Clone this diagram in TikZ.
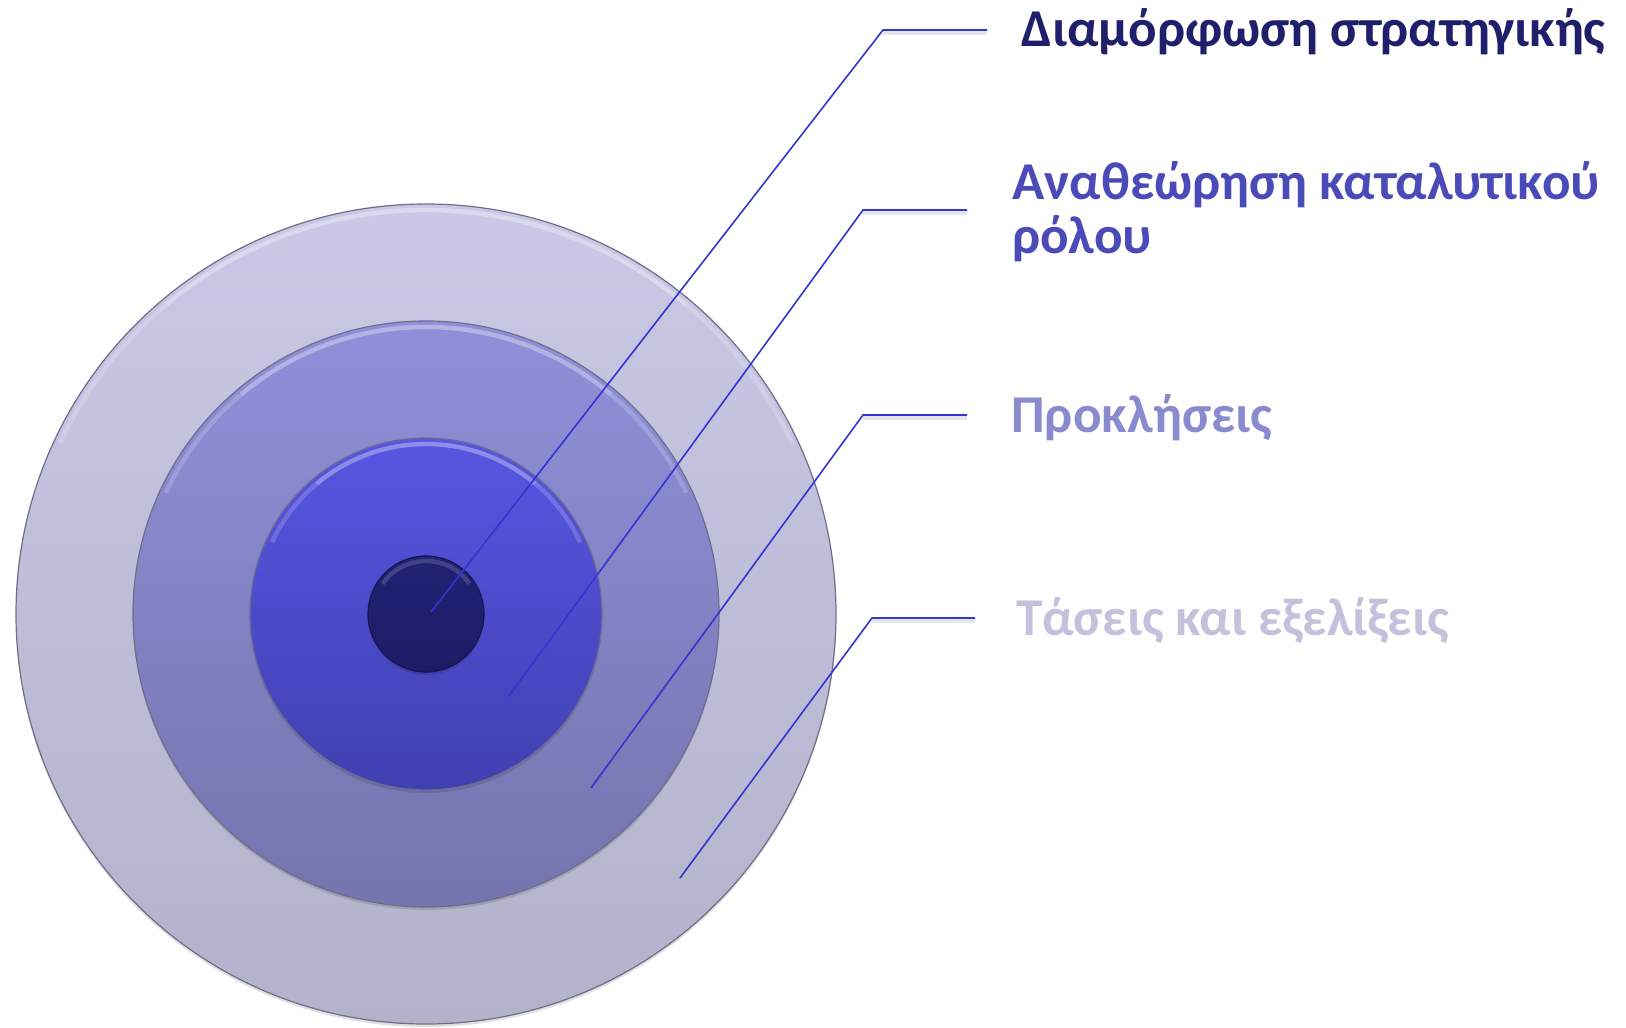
\documentclass[tikz,border=0pt]{standalone}
\usepackage{fontspec}
\setmainfont{Carlito}
\usetikzlibrary{positioning}

\definecolor{leaderblue}{HTML}{3434D2}
\definecolor{ringedge}{HTML}{6E6E8C}
\definecolor{labelA}{HTML}{1F1F6C}
\definecolor{labelB}{HTML}{4A4AB9}
\definecolor{labelC}{HTML}{8A8ACE}
\definecolor{labelD}{HTML}{C2C2DD}

\begin{document}
\begin{tikzpicture}[x=0.5pt, y=-0.5pt,
	ring/.style={draw=ringedge, line width=0.6pt},
	ring shadow/.style={fill=black, opacity=0.12},
	ring shine/.style={white, opacity=0.18, line width=2.2pt},
	leader/.style={leaderblue, line width=0.8pt},
	leader shadow/.style={black, opacity=0.10, line width=2pt},
	ring label/.style={font=\fontsize{26.6}{27.5}\selectfont\bfseries, inner sep=0pt,
		anchor=west, align=left, text height=17pt, text depth=0pt},
	]
	
	\useasboundingbox (0,0) rectangle (1626,1027);
	\coordinate (ctr) at (426,614);
	
	% Target rings, outer to inner
	\fill[ring shadow] ([yshift=-1.5pt]ctr) circle[radius=410];
	\shade[ring, top color={rgb,255:red,201;green,201;blue,231}, bottom color={rgb,255:red,178;green,178;blue,202}]
	(ctr) circle[radius=410];
	\draw[ring shine] (ctr) ++(-25:404) arc[start angle=-25, end angle=-155, radius=404];
	\draw[ring shine] (ctr) ++(-50:404) arc[start angle=-50, end angle=-130, radius=404];
	
	\fill[ring shadow] ([yshift=-1.5pt]ctr) circle[radius=293];
	\shade[ring, top color={rgb,255:red,144;green,144;blue,218}, bottom color={rgb,255:red,116;green,116;blue,174}]
	(ctr) circle[radius=293];
	\draw[ring shine] (ctr) ++(-25:287) arc[start angle=-25, end angle=-155, radius=287];
	\draw[ring shine] (ctr) ++(-50:287) arc[start angle=-50, end angle=-130, radius=287];
	
	\fill[ring shadow] ([yshift=-1.5pt]ctr) circle[radius=176];
	\shade[ring, top color={rgb,255:red,86;green,86;blue,226}, bottom color={rgb,255:red,64;green,64;blue,178}]
	(ctr) circle[radius=176];
	\draw[ring shine] (ctr) ++(-25:170) arc[start angle=-25, end angle=-155, radius=170];
	\draw[ring shine] (ctr) ++(-50:170) arc[start angle=-50, end angle=-130, radius=170];
	
	\fill[ring shadow] ([yshift=-1.5pt]ctr) circle[radius=58];
	\shade[ring, draw=labelA!70!black, top color={rgb,255:red,34;green,34;blue,118}, bottom color={rgb,255:red,28;green,28;blue,102}]
	(ctr) circle[radius=58];
	\draw[ring shine, opacity=0.15] (ctr) ++(-35:53) arc[start angle=-35, end angle=-145, radius=53];
	
	% Leader line end points
	\coordinate (s1) at (431,612); \coordinate (k1) at (883,30);  \coordinate (e1) at (987,30);
	\coordinate (s2) at (509,696); \coordinate (k2) at (863,210); \coordinate (e2) at (967,210);
	\coordinate (s3) at (591,788); \coordinate (k3) at (863,415); \coordinate (e3) at (967,415);
	\coordinate (s4) at (680,878); \coordinate (k4) at (872,618); \coordinate (e4) at (975,618);
	
	% Labels
	\node[ring label, text=labelA, right=17pt of e1] (t1) {Διαμόρφωση στρατηγικής};
	\node[ring label, text=labelB, right=22.5pt of e2, yshift=-13.5pt] (t2) {Αναθεώρηση καταλυτικού\\ρόλου};
	\node[ring label, text=labelC, right=22pt of e3] (t3) {Προκλήσεις};
	\node[ring label, text=labelD, right=20.5pt of e4] (t4) {Τάσεις και εξελίξεις};
	
	% Leader lines
	\draw[leader shadow] ([yshift=-1.5pt]k1) -- ([yshift=-1.5pt]e1);
	\draw[leader shadow] ([yshift=-1.5pt]k2) -- ([yshift=-1.5pt]e2);
	\draw[leader shadow] ([yshift=-1.5pt]k3) -- ([yshift=-1.5pt]e3);
	\draw[leader shadow] ([yshift=-1.5pt]k4) -- ([yshift=-1.5pt]e4);
	\draw[leader] (s1) -- (k1) -- (e1);
	\draw[leader] (s2) -- (k2) -- (e2);
	\draw[leader] (s3) -- (k3) -- (e3);
	\draw[leader] (s4) -- (k4) -- (e4);
	
\end{tikzpicture}
\end{document}
